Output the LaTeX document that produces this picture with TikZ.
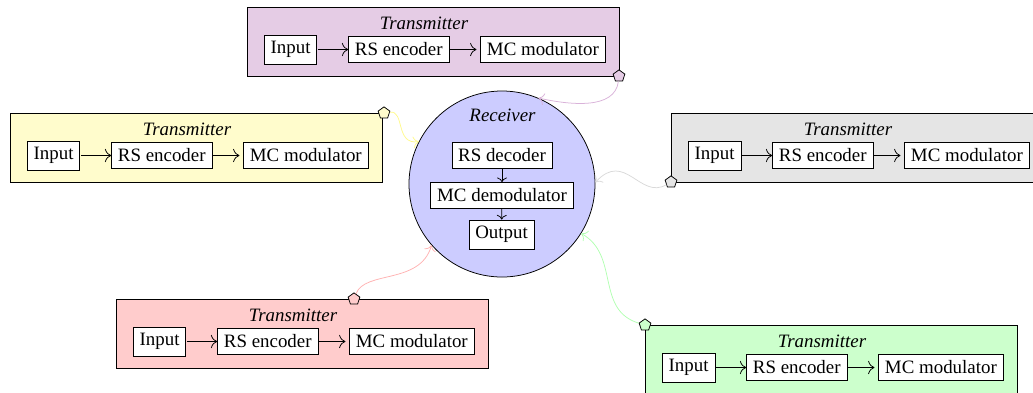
\documentclass[tikz,border=0pt]{standalone}
\usepackage{fontspec}
\setmainfont{Liberation Serif}
\usetikzlibrary{shapes.geometric,positioning,arrows.meta}
\newcommand\mktx[4]{%
  \node[outer, fill=#4] (#1) at (#2+186,#3+34.5) {};
  \node[blk, anchor=west] (#1in) at (#2+17,#3+42.5) {Input};
  \node[blk, right=16.4pt of #1in] (#1rs) {RS encoder};
  \node[blk, right=16.4pt of #1rs] (#1mc) {MC modulator};
  \node[ttl] (#1t) at (#2+177,#3+22) {Transmitter};
  \draw[flow, shorten <=0.5pt] (#1in) -- (#1rs);
  \draw[flow, shorten >=2pt] (#1rs) -- (#1mc);
}
\begin{document}
\begin{tikzpicture}[x=0.529pt,y=-0.529pt,
  outer/.style={draw=black, line width=0.5pt, rectangle, inner sep=0pt, minimum width=196.8pt, minimum height=36.5pt},
  blk/.style={draw=black, fill=white, rectangle, inner sep=3.33pt},
  ttl/.style={font=\itshape, inner sep=0pt, anchor=base},
  port/.style={draw=black, regular polygon, regular polygon sides=5, inner sep=0pt, minimum size=6.5pt},
  flow/.style={-{To[scale=1.35]}},
  link/.style={-{To[scale=1.2]}, line width=0.4pt}]
\useasboundingbox (0,0) rectangle (1033,392);

% receiver
\node[circle, draw=black, fill=blue!20, minimum size=98.4pt, inner sep=0pt] (rx) at (502,184) {};
\node[ttl] (rxt) at (502.5,121.5) {Receiver};
\node[blk] (dec) at (502,155.5) {RS decoder};
\node[blk] (dem) at (502,195.5) {MC demodulator};
\node[blk] (out) at (501.5,234.5) {Output};
\draw[-{To}] (dec) -- (dem);
\draw[-{To}] (dem) -- (out);

% transmitters
\mktx{ta}{247}{7}{violet!20}
\mktx{tb}{10}{113}{yellow!20}
\mktx{tc}{671}{113}{gray!20}
\mktx{td}{116}{299}{red!20}
\mktx{te}{645}{325}{green!20}

% ports
\node[port, fill=violet!20] (pa) at (619,76) {};
\node[port, fill=yellow!20] (pb) at (384,113) {};
\node[port, fill=gray!20] (pc) at (671,182) {};
\node[port, fill=red!20] (pd) at (354,299) {};
\node[port, fill=green!20] (pe) at (645,325) {};

% links
\draw[link, violet!30] (pa) .. controls (615,110) and (570,105) .. (rx.67);
\draw[link, yellow!45] (pb) .. controls (405,110) and (395,145) .. (rx.153);
\draw[link, gray!30] (pc) .. controls (640,200) and (625,150) .. (rx.1);
\draw[link, red!30] (pd) .. controls (365,270) and (420,285) .. (rx.221);
\draw[link, green!30] (pe) .. controls (595,310) and (620,255) .. (rx.-32);
\end{tikzpicture}
\end{document}
